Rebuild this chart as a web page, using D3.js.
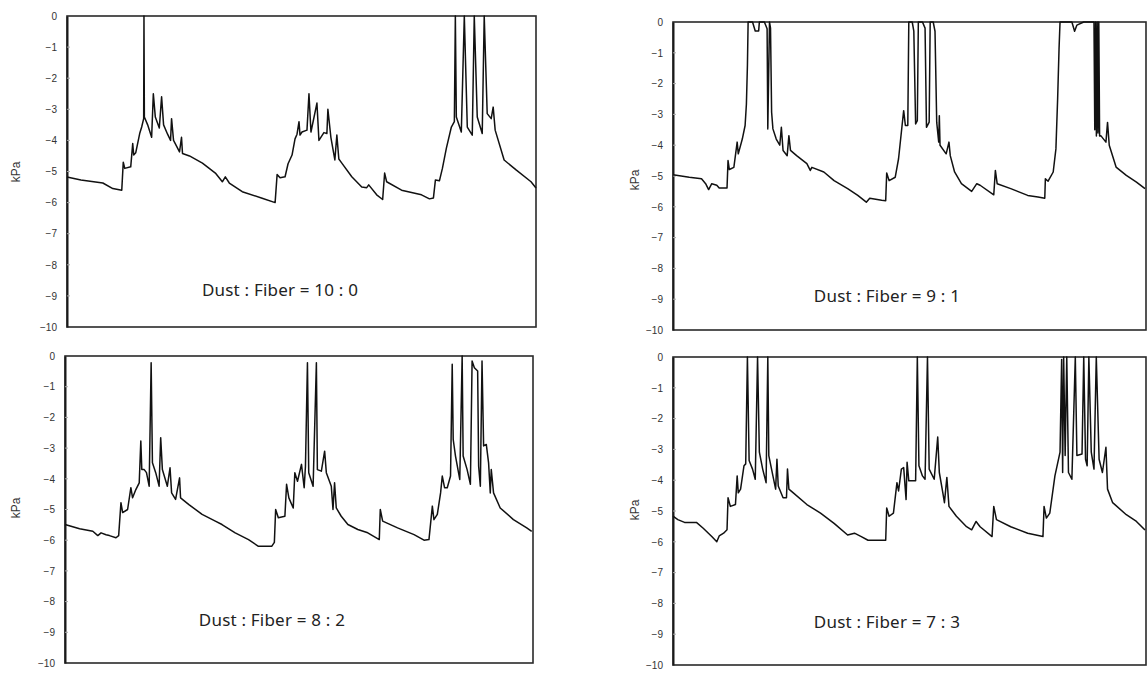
<!DOCTYPE html>
<html>
<head>
<meta charset="utf-8">
<script src="https://cdn.jsdelivr.net/npm/d3@7"></script>
<style>
  html, body { margin: 0; padding: 0; background: #ffffff; }
  svg { display: block; }
</style>
</head>
<body>
<svg id="chart" width="1147" height="697"></svg>
<script>
// ---- data: [time (arbitrary units), pressure kPa] ----
const yTicks = [0, -1, -2, -3, -4, -5, -6, -7, -8, -9, -10];
const yLabel = "kPa";
const panelLabels = ["Dust : Fiber = 10 : 0", "Dust : Fiber = 9 : 1", "Dust : Fiber = 8 : 2", "Dust : Fiber = 7 : 3"];

const series10_0 = [[0,-5.18],[14,-5.27],[36,-5.37],[46,-5.55],[55,-5.6],[56.5,-4.7],[58,-4.9],[64,-4.85],[66,-4.1],[67,-4.47],[69,-4.4],[73,-3.78],[75,-3.57],[77,-3.3],[77.3,0],[77.7,-3.25],[81,-3.5],[85,-3.9],[86.7,-2.5],[88.7,-3.25],[92.7,-3.6],[95,-2.6],[97,-3.5],[101,-3.8],[104,-4.0],[105,-3.3],[107,-4.0],[113,-4.37],[115,-3.9],[116,-4.42],[123,-4.5],[136,-4.73],[149,-5.05],[156,-5.33],[159,-5.17],[163,-5.37],[176,-5.65],[196,-5.86],[209,-6.0],[211,-5.1],[214,-5.2],[219,-5.17],[222,-4.75],[226,-4.47],[229,-3.95],[231,-3.8],[233,-3.4],[234,-3.83],[236,-3.73],[241,-3.67],[243,-2.5],[245,-3.73],[251,-2.8],[253,-4.0],[258,-3.75],[261,-3.78],[262,-3.0],[265,-3.9],[269,-4.63],[271,-3.83],[273,-4.6],[276,-4.73],[286,-5.17],[296,-5.5],[301,-5.52],[303,-5.43],[311,-5.75],[317,-5.9],[319,-5.05],[321,-5.33],[336,-5.6],[356,-5.75],[364,-5.88],[368,-5.85],[370,-5.27],[374,-5.3],[377,-4.9],[381,-4.25],[386,-3.57],[389,-3.4],[390,0],[391,-3.25],[396,-3.73],[399,0],[402,-3.57],[407,-3.83],[409,0],[412,-3.25],[417,-3.78],[419,0],[422,-3.14],[426,-3.3],[428,-2.93],[430,-3.67],[439,-4.63],[451,-4.95],[466,-5.33],[471,-5.53]];

const series9_1 = [[0,-4.96],[16.2,-5.04],[28.4,-5.09],[32.5,-5.25],[35.5,-5.44],[38.6,-5.25],[43.6,-5.3],[46,-5.39],[53.8,-5.39],[54.8,-4.5],[56.1,-4.79],[60.6,-4.72],[63.9,-3.9],[65,-4.28],[69,-3.8],[71.8,-3.36],[73.1,-2.66],[74.1,-1.42],[74.8,0],[79.2,0],[81.9,-0.29],[85.3,-0.29],[86,0],[91,0],[93.7,-0.22],[94.4,-3.47],[96.1,0],[97.1,-0.2],[98.2,-2.93],[99.5,-3.47],[102.8,-3.8],[106.3,-4.0],[107.9,-3.42],[109.6,-4.17],[113.7,-4.34],[115.4,-3.69],[117,-4.17],[123.1,-4.34],[133.3,-4.6],[136.7,-4.82],[138.3,-4.72],[150.2,-4.87],[160.4,-5.15],[173.9,-5.41],[184,-5.63],[192.5,-5.85],[195.9,-5.72],[207.8,-5.79],[211.8,-5.8],[212.8,-4.9],[215.2,-5.15],[221.3,-5.04],[224.6,-4.44],[228.1,-3.36],[229.7,-2.88],[231.4,-3.36],[233.8,-3.36],[234.8,0],[238.2,0],[239.8,-0.3],[241.6,-3.31],[243.3,-3.2],[244.3,0],[248.4,0],[251,-0.2],[252.4,-3.42],[255.1,-3.25],[256.1,0],[259.1,0],[260.9,-0.3],[262.6,-3.26],[264.6,-3.9],[265.2,-3.04],[265.9,-4.0],[272,-4.28],[274.8,-3.9],[276.1,-4.34],[280.4,-4.87],[287.2,-5.25],[297.4,-5.5],[302.5,-5.25],[305.8,-5.3],[319.4,-5.61],[321,-4.82],[322.8,-5.25],[336.3,-5.41],[353.2,-5.63],[363.4,-5.68],[370.2,-5.72],[370.8,-5.09],[373.5,-5.17],[378.6,-4.87],[381.3,-4.12],[383,-2.5],[384.4,-0.88],[385.4,0],[397.2,0],[399.9,-0.3],[402.2,-0.1],[409,0],[419.2,0],[420,-3.5],[420.8,0],[421.6,-3.7],[422.4,0],[423.2,-3.6],[424,0],[424.8,-3.7],[426,-3.69],[431.1,-3.9],[432.7,-3.26],[434.4,-4.0],[441.2,-4.71],[451.4,-4.98],[461.5,-5.2],[470,-5.41]];

const series8_2 = [[0,-5.49],[14.7,-5.63],[28,-5.71],[33,-5.85],[36.3,-5.76],[41.3,-5.82],[44.7,-5.85],[51.3,-5.92],[54,-5.85],[56.3,-4.78],[58,-5.1],[63,-5.0],[66.3,-4.29],[68,-4.62],[71.3,-4.35],[74.7,-4.13],[76.3,-2.77],[77.3,-3.7],[79.7,-3.7],[82,-3.8],[84.7,-4.24],[86.7,-0.22],[88,-3.48],[91.3,-3.8],[94.7,-4.24],[96.3,-2.66],[98,-3.7],[103,-4.24],[105.7,-3.64],[107.3,-4.46],[111.3,-4.67],[115.3,-3.97],[116.3,-4.62],[124.7,-4.84],[138,-5.16],[151.3,-5.38],[158,-5.49],[171.3,-5.76],[184.7,-5.98],[194.7,-6.2],[208,-6.2],[210.7,-6.07],[212,-5.0],[214.7,-5.27],[221.3,-5.22],[223,-4.18],[225.3,-4.62],[229.7,-4.95],[231.3,-3.8],[234,-4.08],[238,-3.53],[240.7,-4.29],[242,-3.59],[244,-0.22],[245.3,-3.8],[249.7,-4.24],[253,-0.22],[254,-3.7],[258,-3.75],[261.3,-3.1],[263,-3.8],[268,-4.24],[269.7,-5.0],[271.3,-4.13],[273,-4.95],[278,-5.22],[284.7,-5.49],[294.7,-5.65],[304.7,-5.76],[316.3,-5.98],[317.3,-5.0],[319.7,-5.38],[334.7,-5.6],[351.3,-5.82],[361.3,-6.0],[366.3,-5.98],[369.7,-4.89],[371.3,-5.33],[374.7,-5.16],[378,-4.46],[379.7,-3.91],[382,-4.29],[384.7,-4.29],[388,-3.91],[389.7,-0.27],[390.7,-2.72],[393,-3.26],[397.3,-4.02],[399.7,0],[400.7,-3.26],[404.7,-3.7],[408,-4.18],[409.7,-0.16],[412,-0.38],[415.3,-0.49],[416.3,-3.59],[418,-4.24],[419.7,-0.16],[421.3,-2.93],[424,-2.88],[426.3,-3.48],[428,-4.46],[429,-3.7],[431.3,-4.46],[438,-4.95],[451.3,-5.33],[464.7,-5.6],[469.7,-5.71]];

const series7_3 = [[0,-5.17],[4.8,-5.28],[11.5,-5.37],[23.3,-5.37],[30.1,-5.56],[38.6,-5.83],[43.6,-6.0],[46,-5.81],[50.4,-5.72],[53.8,-5.61],[54.8,-4.57],[57.1,-4.85],[62.2,-4.79],[63.9,-3.86],[65,-4.41],[67.3,-4.29],[70.7,-3.53],[72.4,-3.47],[74.1,0],[75.8,-3.36],[79.2,-3.64],[81.9,-3.97],[84.2,0],[86,-3.09],[89.3,-3.64],[92.7,-4.08],[94.4,0],[95.4,-3.2],[99.5,-3.86],[102.2,-4.29],[103.5,-3.32],[104.8,-4.19],[109.6,-4.57],[113,-4.57],[114,-3.64],[115.4,-4.29],[119.8,-4.41],[133.3,-4.79],[146.9,-5.07],[160.4,-5.4],[173.9,-5.78],[180.7,-5.72],[187.5,-5.83],[194.2,-5.95],[211.8,-5.95],[212.8,-4.9],[215.2,-5.17],[219.5,-5.07],[223,-4.08],[224.6,-4.35],[227.4,-3.64],[229.7,-3.59],[232.1,-4.63],[233.1,-3.42],[234.8,-4.02],[241.6,-4.02],[243.3,0],[244.9,-3.53],[248.4,-3.86],[251,-3.97],[253.4,0],[255.1,-3.64],[260.1,-3.97],[263.6,-2.6],[265.2,-3.75],[268.7,-4.41],[270.3,-4.73],[272.7,-3.91],[274.8,-4.85],[282.2,-5.17],[292.3,-5.51],[297.4,-5.61],[301.8,-5.34],[305.8,-5.51],[317.7,-5.83],[319.4,-4.85],[322.1,-5.28],[336.3,-5.51],[353.2,-5.72],[368.4,-5.83],[369.5,-4.85],[371.8,-5.23],[375.2,-5.07],[380.3,-3.86],[385.4,-3.09],[387,-0.08],[388,-3.75],[389,0],[390.5,-3.2],[392.1,0],[393.8,-3.75],[397.2,-3.97],[400.6,0],[402.2,-3.2],[407.3,-3.15],[409,0],[410.8,-3.32],[412.4,-3.53],[414.1,0],[416.5,-3.09],[419.2,-3.64],[421.5,0],[424.3,-3.32],[427.6,-3.75],[431.1,-2.93],[432.7,-4.29],[437.8,-4.73],[451.4,-5.12],[461.5,-5.34],[470,-5.62]];

const timeDomain = [0, 471];

// ---- layout (positions only) ----
const panels = [
  { data: series10_0, label: panelLabels[0], left: 67,  right: 536,  top: 16,  bottom: 327, ylabX: 17,  ylabY: 172, textX: 280, textY: 296 },
  { data: series9_1,  label: panelLabels[1], left: 673, right: 1146, top: 22,  bottom: 330, ylabX: 636, ylabY: 180, textX: 887, textY: 302 },
  { data: series8_2,  label: panelLabels[2], left: 65,  right: 533,  top: 356, bottom: 663, ylabX: 17,  ylabY: 508, textX: 272, textY: 626 },
  { data: series7_3,  label: panelLabels[3], left: 673, right: 1146, top: 357, bottom: 665, ylabX: 636, ylabY: 510, textX: 887, textY: 628 }
];

const svg = d3.select("#chart");

panels.forEach(p => {
  const x = d3.scaleLinear().domain(timeDomain).range([p.left, p.right]);
  const y = d3.scaleLinear().domain([-10, 0]).range([p.bottom, p.top]);
  const g = svg.append("g");

  // frame
  g.append("rect")
    .attr("x", p.left).attr("y", p.top)
    .attr("width", p.right - p.left).attr("height", p.bottom - p.top)
    .attr("fill", "none").attr("stroke", "#2a2a2a").attr("stroke-width", 1.6);

  // y axis
  const ax = g.append("g")
    .attr("transform", `translate(${p.left},0)`)
    .call(d3.axisLeft(y).tickValues(yTicks).tickSize(0).tickPadding(10).tickFormat(d3.format("d")));
  ax.select(".domain").attr("stroke", "#1a1a1a").attr("stroke-width", 2);
  ax.selectAll("text")
    .attr("font-family", "'Liberation Sans', Arial, sans-serif")
    .attr("font-size", 10)
    .attr("fill", "#333");
  // small inner tick marks
  g.selectAll("line.itick").data(yTicks.slice(1, -1)).enter().append("line")
    .attr("class", "itick")
    .attr("x1", p.left).attr("x2", p.left + 3)
    .attr("y1", d => y(d)).attr("y2", d => y(d))
    .attr("stroke", "#aaa").attr("stroke-width", 1);

  // y label
  g.append("text")
    .attr("transform", `translate(${p.ylabX},${p.ylabY}) rotate(-90)`)
    .attr("text-anchor", "middle")
    .attr("dominant-baseline", "middle")
    .attr("font-family", "'Liberation Sans', Arial, sans-serif")
    .attr("font-size", 12)
    .attr("fill", "#333")
    .text(yLabel);

  // trace
  const line = d3.line().x(d => x(d[0])).y(d => y(d[1]));
  g.append("path")
    .datum(p.data)
    .attr("d", line)
    .attr("fill", "none")
    .attr("stroke", "#111")
    .attr("stroke-width", 1.5)
    .attr("stroke-linejoin", "round");

  // annotation
  g.append("text")
    .attr("x", p.textX).attr("y", p.textY)
    .attr("text-anchor", "middle")
    .attr("font-family", "'Noto Sans', 'Open Sans', sans-serif")
    .attr("font-size", 17)
    .attr("letter-spacing", 0.2)
    .attr("fill", "#222")
    .text(p.label);
});
</script>
</body>
</html>
